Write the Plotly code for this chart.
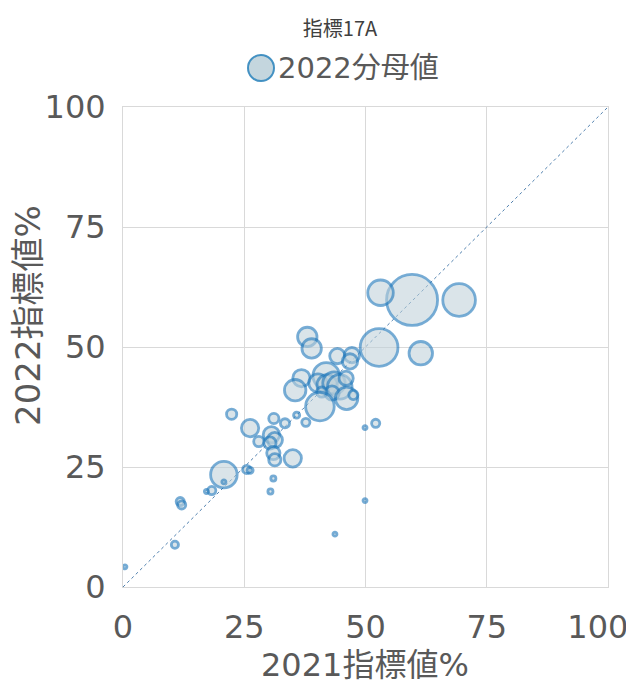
import plotly.graph_objects as go

# 2021 indicator value (%), 2022 indicator value (%), 2022 denominator
x2021 = [59.6, 69.3, 53.1, 52.8, 61.4, 38.0, 38.9, 44.2, 47.2, 46.8,
         36.8, 35.5, 41.9, 40.2, 42.1, 43.5, 44.7, 43.1, 41.0, 46.0,
         40.6, 46.1, 47.5, 37.7, 35.8, 33.4, 31.1, 52.1, 49.9, 22.4,
         26.2, 28.0, 30.6, 31.3, 30.3, 31.0, 31.3, 35.0, 20.8, 20.8,
         25.5, 26.2, 18.3, 17.2, 11.8, 12.1, 10.7, 31.0, 30.4, 49.9,
         43.7, 0.4]
y2022 = [59.8, 59.8, 61.3, 49.9, 48.7, 52.1, 49.7, 48.1, 48.3, 47.0,
         43.5, 41.0, 44.0, 42.5, 42.1, 42.5, 41.7, 40.4, 40.6, 43.5,
         37.6, 39.3, 40.0, 34.3, 35.8, 34.1, 35.1, 34.1, 33.2, 36.0,
         33.1, 30.3, 31.7, 30.6, 30.0, 27.9, 26.5, 26.8, 23.4, 21.9,
         24.5, 24.3, 20.1, 19.9, 17.8, 17.1, 8.8, 22.6, 19.9, 18.0,
         11.0, 4.2]
denom2022 = [2500, 1024, 625, 1369, 529, 361, 361, 225, 225, 225,
             289, 441, 676, 324, 400, 484, 576, 196, 100, 196,
             784, 484, 81, 64, 36, 81, 100, 64, 4, 100,
             289, 100, 256, 225, 144, 169, 144, 289, 676, 16,
             64, 36, 64, 16, 64, 64, 49, 25, 25, 9,
             4, 4]

diag = [0, 100]
ticks = [0, 25, 50, 75, 100]
tick_labels = ["0", "25", "50", "75", "100"]

MAX_DIAM = 51
sizeref = 2.0 * max(denom2022) / (MAX_DIAM ** 2)

FONT = "DejaVu Sans, Noto Sans CJK JP"
CJK = "Noto Sans CJK JP"
GRAY = "#595959"
GRID = "#d9d9d9"

# the page body adds an 8px offset; layout below is in window pixels
OFF = 8
WIN_W, WIN_H = 634, 683
W, H = WIN_W - OFF, WIN_H - OFF
L, R, T, B = 123 - OFF, 608 - OFF, 107 - OFF, 587 - OFF
PW, PH = R - L, B - T


def px(xs):
    return (xs - OFF - L) / PW


def py(ys):
    return (B - (ys - OFF)) / PH


# the last x label is nudged inward (padding) so it stays inside the page
NBSP = "\u00a0"
x_ticktext = [t + NBSP * 2 if i == len(tick_labels) - 1 else t
              for i, t in enumerate(tick_labels)]

fig = go.Figure()

fig.add_trace(go.Scatter(
    x=diag, y=diag, mode="lines",
    line=dict(color="#4f7fae", width=1, dash="dot"),
    hoverinfo="skip", showlegend=False,
))

fig.add_trace(go.Scatter(
    x=x2021, y=y2022, mode="markers", name="2022分母値",
    marker=dict(
        size=denom2022, sizemode="area", sizeref=sizeref, sizemin=2,
        color="rgba(190,209,218,0.8)",
        line=dict(color="rgba(28,118,186,0.85)", width=2.8),
    ),
    showlegend=False,
))

# legend (drawn manually to match the large legend symbol)
fig.add_shape(type="circle", xref="paper", yref="paper",
              xsizemode="pixel", ysizemode="pixel",
              xanchor=px(261), yanchor=py(68),
              x0=-13, x1=13, y0=-13, y1=13,
              fillcolor="rgb(196,214,222)",
              line=dict(color="rgba(50,135,190,0.9)", width=2))
fig.add_annotation(text="2022分母値", xref="paper", yref="paper",
                   x=px(276), y=py(68),
                   xanchor="left", yanchor="middle", showarrow=False,
                   font=dict(family=FONT, size=29, color=GRAY))

# axis titles
fig.add_annotation(text="2021指標値%", xref="paper", yref="paper",
                   x=px(365), y=py(665), xanchor="center", yanchor="middle",
                   showarrow=False,
                   font=dict(family=FONT, size=32, color=GRAY))
fig.add_annotation(text="2022指標値%", xref="paper", yref="paper",
                   x=px(28), y=py(316), xanchor="center", yanchor="middle",
                   textangle=-90, showarrow=False,
                   font=dict(family=FONT, size=34, color=GRAY))

axis_common = dict(
    range=[0, 100], tickvals=ticks,
    showgrid=True, gridcolor=GRID, gridwidth=1,
    showline=True, linecolor=GRID, linewidth=1, mirror=True,
    zeroline=False, ticks="", automargin=False,
    ticklabeloverflow="allow",
    tickfont=dict(family=FONT, size=32, color=GRAY),
)

fig.update_layout(
    width=W, height=H,
    margin=dict(l=L, r=W - R, t=T, b=H - B, autoexpand=False),
    paper_bgcolor="white", plot_bgcolor="white",
    title=dict(text="指標17A", x=(340 - OFF) / W, xanchor="center",
               y=1 - (29 - OFF) / H, yanchor="middle",
               font=dict(family=CJK, size=20, color="#404040")),
    xaxis=dict(**axis_common, ticktext=x_ticktext, ticklabelstandoff=12),
    yaxis=dict(**axis_common, ticktext=tick_labels, ticklabelstandoff=10),
    showlegend=False,
)

fig.write_html("out.html")
